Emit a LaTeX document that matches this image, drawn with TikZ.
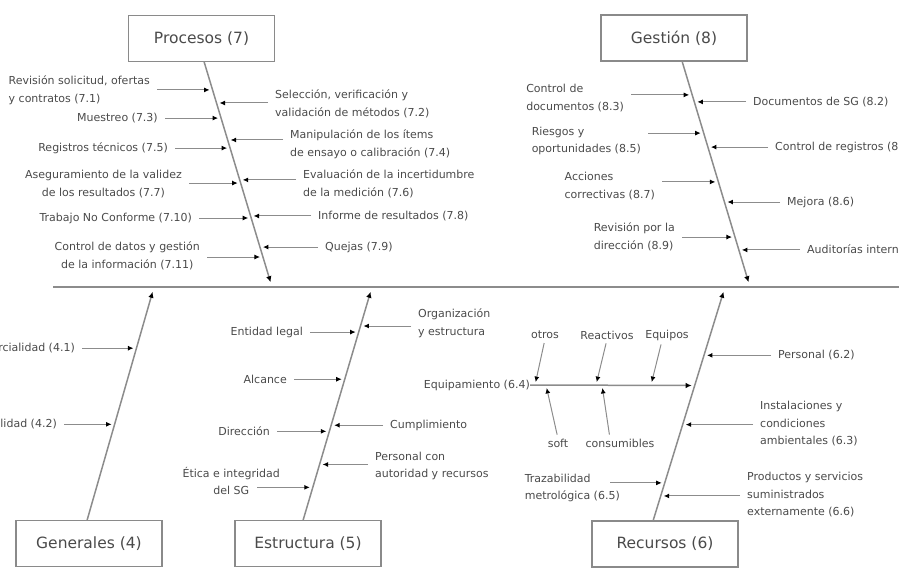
\documentclass[tikz,border=0pt]{standalone}
\usepackage{fontspec}
\setmainfont{DejaVu Sans}
\usetikzlibrary{arrows.meta,calc}
\definecolor{linegray}{HTML}{8C8C8C}
\definecolor{boxgray}{HTML}{8A8A8A}
\definecolor{txtgray}{HTML}{4A4A4A}
\begin{document}
\begin{tikzpicture}[x=1pt,y=-1pt] % диаграмма Исикавы
\tikzstyle{mybox} = [draw=boxgray, line width=1.8pt, minimum width=146pt, minimum height=46pt, text=txtgray, font=\fontsize{15.5}{17}\selectfont] % category box style
\tikzstyle{mylabel} = [inner sep=0pt, text=txtgray, font=\fontsize{11}{17.5}\selectfont] % подпись причины
\tikzstyle{myspine} = [draw=linegray, line width=2.6pt] % main line
\tikzstyle{mybone} = [draw=linegray, line width=1.5pt, -{Latex[black,length=6pt,width=5.5pt]}, shorten >=5pt] % кость к хребту
\tikzstyle{myarrow} = [draw=linegray, line width=1pt, -{Latex[black,length=5.5pt,width=5pt]}, shorten <=7pt, shorten >=3pt] % cause arrow style
\useasboundingbox (0,0) rectangle (899,573);
% хребет
\coordinate (spL) at (53,287);
\coordinate (spR) at (899,287);
\draw[myspine] (spL) -- (spR);

% Procesos (7)
\node[mybox] (proc) at (201.5,38.5) {Procesos (7)};
\coordinate (pT) at (204,61.5);
\coordinate (pS) at (272,287);
\draw[mybone] (pT) -- (pS);
\path (pT) -- (pS) coordinate[pos=.126] (c71) coordinate[pos=.184] (c72) coordinate[pos=.251] (c73)
    coordinate[pos=.348] (c74) coordinate[pos=.384] (c75) coordinate[pos=.525] (c76) coordinate[pos=.539] (c77)
    coordinate[pos=.685] (c78) coordinate[pos=.694] (c710) coordinate[pos=.823] (c79) coordinate[pos=.867] (c711);
\node[mylabel, anchor=east, align=left] (l71) at (150,90) {Revisión solicitud, ofertas\\y contratos (7.1)};
\node[mylabel, anchor=east] (l73) at (158,118) {Muestreo (7.3)};
\node[mylabel, anchor=east] (l75) at (168,148) {Registros técnicos (7.5)};
\node[mylabel, anchor=east, align=center] (l77) at (182,184) {Aseguramiento de la validez\\de los resultados (7.7)};
\node[mylabel, anchor=east] (l710) at (192,218) {Trabajo No Conforme (7.10)};
\node[mylabel, anchor=east, align=center] (l711) at (200,256) {Control de datos y gestión\\de la información (7.11)};
\node[mylabel, anchor=west, align=left] (l72) at (275,104) {Selección, verificación y\\validación de métodos (7.2)};
\node[mylabel, anchor=west, align=left] (l74) at (290,144) {Manipulación de los ítems\\de ensayo o calibración (7.4)};
\node[mylabel, anchor=west, align=left] (l76) at (303,184) {Evaluación de la incertidumbre\\de la medición (7.6)};
\node[mylabel, anchor=west] (l78) at (318,216) {Informe de resultados (7.8)};
\node[mylabel, anchor=west] (l79) at (325,247) {Quejas (7.9)};
\foreach \n in {71,73,75,77,710,711} \draw[myarrow] (l\n.east |- c\n) -- (c\n);
\foreach \n in {72,74,76,78,79} \draw[myarrow] (l\n.west |- c\n) -- (c\n);

% Gestión (8)
\node[mybox] (gest) at (674,38) {Gestión (8)};
\coordinate (gT) at (682,61);
\coordinate (gS) at (750,287);
\draw[mybone] (gT) -- (gS);
\path (gT) -- (gS) coordinate[pos=.150] (c83) coordinate[pos=.181] (c82) coordinate[pos=.319] (c85)
    coordinate[pos=.381] (c84) coordinate[pos=.535] (c87) coordinate[pos=.624] (c86)
    coordinate[pos=.779] (c89) coordinate[pos=.836] (c88);
\node[mylabel, anchor=east, align=left] (l83) at (624,98) {Control de\\documentos (8.3)};
\node[mylabel, anchor=east, align=left] (l85) at (641,141) {Riesgos y\\oportunidades (8.5)};
\node[mylabel, anchor=east, align=left] (l87) at (655,186) {Acciones\\correctivas (8.7)};
\node[mylabel, anchor=east, align=left] (l89) at (675,237) {Revisión por la\\dirección (8.9)};
\node[mylabel, anchor=west] (l82) at (753,102) {Documentos de SG (8.2)};
\node[mylabel, anchor=west] (l84) at (775,147) {Control de registros (8.4)};
\node[mylabel, anchor=west] (l86) at (787,202) {Mejora (8.6)};
\node[mylabel, anchor=west] (l88) at (807,250) {Auditorías internas (8.8)};
\foreach \n in {83,85,87,89} \draw[myarrow] (l\n.east |- c\n) -- (c\n);
\foreach \n in {82,84,86,88} \draw[myarrow] (l\n.west |- c\n) -- (c\n);

% Generales (4)
\node[mybox] (gen) at (89,543.5) {Generales (4)};
\coordinate (genT) at (87,520.5);
\coordinate (genS) at (154,287);
\draw[mybone] (genT) -- (genS);
\path (genT) -- (genS) coordinate[pos=.738] (c41) coordinate[pos=.412] (c42);
\node[mylabel, anchor=east] (l41) at (75,348) {Imparcialidad (4.1)};
\node[mylabel, anchor=east] (l42) at (57,424) {Confidencialidad (4.2)};
\foreach \n in {41,42} \draw[myarrow] (l\n.east |- c\n) -- (c\n);

% Estructura (5)
\node[mybox] (estr) at (308,543.5) {Estructura (5)};
\coordinate (eT) at (303,520.5);
\coordinate (eS) at (372,287);
\draw[mybone] (eT) -- (eS);
\path (eT) -- (eS) coordinate[pos=.833] (cor) coordinate[pos=.807] (cel) coordinate[pos=.605] (cal)
    coordinate[pos=.408] (ccu) coordinate[pos=.382] (cdi) coordinate[pos=.240] (cpe) coordinate[pos=.142] (cet);
\node[mylabel, anchor=east] (lel) at (303,332) {Entidad legal};
\node[mylabel, anchor=east] (lal) at (287,379) {Alcance};
\node[mylabel, anchor=east] (ldi) at (270,431) {Dirección};
\node[mylabel, anchor=east, align=center] (let) at (280,481) {Ética e integridad\\del SG};
\node[mylabel, anchor=west, align=left] (lor) at (418,323) {Organización\\y estructura};
\node[mylabel, anchor=west] (lcu) at (390,425) {Cumplimiento};
\node[mylabel, anchor=west, align=left] (lpe) at (375,466) {Personal con\\autoridad y recursos};
\foreach \n in {el,al,di} \draw[myarrow] (l\n.east |- c\n) -- (c\n);
\draw[myarrow] ($(let.east |- cet)+(-30,0)$) -- (cet);
\foreach \n in {or,cu,pe} \draw[myarrow] (l\n.west |- c\n) -- (c\n);

% Recursos (6)
\node[mybox] (rec) at (665,544) {Recursos (6)};
\coordinate (rT) at (653,521);
\coordinate (rS) at (725,287);
\draw[mybone] (rT) -- (rS);
\path (rT) -- (rS) coordinate[pos=.708] (c62) coordinate[pos=.579] (c64) coordinate[pos=.412] (c63)
    coordinate[pos=.163] (c65) coordinate[pos=.107] (c66);
\node[mylabel, anchor=west] (l62) at (778,355) {Personal (6.2)};
\node[mylabel, anchor=west, align=left] (l63) at (760,424) {Instalaciones y\\condiciones\\ambientales (6.3)};
\node[mylabel, anchor=west, align=left] (l66) at (747,495) {Productos y servicios\\suministrados\\externamente (6.6)};
\node[mylabel, anchor=east, align=left] (l65) at (620,488) {Trazabilidad\\metrológica (6.5)};
\foreach \n in {62,63,66} \draw[myarrow] (l\n.west |- c\n) -- (c\n);
\draw[myarrow] ($(l65.east |- c65)+(-17,0)$) -- (c65);
% Equipamiento: вложенная кость
\node[mylabel, anchor=east] (l64) at (530,385) {Equipamiento (6.4)};
\draw[mybone, shorten >=3pt] (l64.east) -- (c64);
\coordinate (e1) at (535,385);
\coordinate (e2) at (596,385);
\coordinate (e3) at (651,385);
\coordinate (e4) at (546,385);
\coordinate (e5) at (602,385);
\node[mylabel] (otr) at (545,335) {otros};
\node[mylabel] (rea) at (607,335) {Reactivos};
\node[mylabel] (eqp) at (667,335) {Equipos};
\node[mylabel] (sof) at (558,443) {soft};
\node[mylabel] (con) at (620,443) {consumibles};
\draw[myarrow, shorten <=4pt] (otr.south) -- (e1);
\draw[myarrow, shorten <=4pt] (rea.south) -- (e2);
\draw[myarrow, shorten <=4pt] ([xshift=-5pt]eqp.south) -- (e3);
\draw[myarrow, shorten <=4pt] (sof.north) -- (e4);
\draw[myarrow, shorten <=4pt] ([xshift=-10pt]con.north) -- (e5);
\end{tikzpicture}
\end{document}
